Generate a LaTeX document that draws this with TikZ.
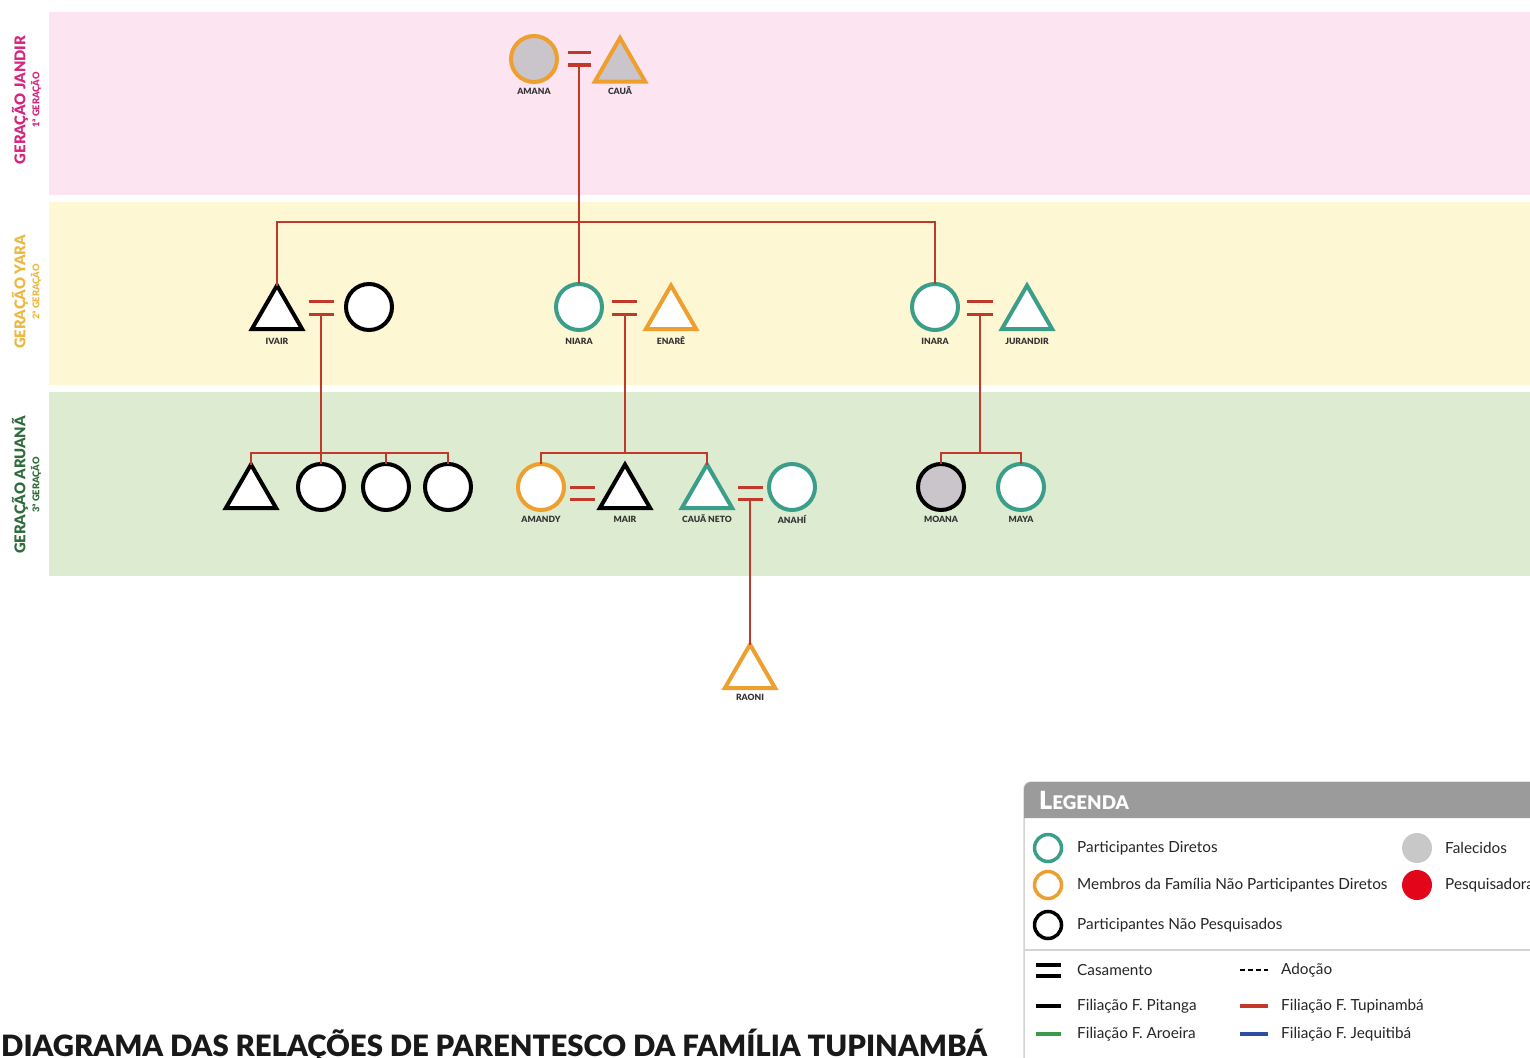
\documentclass[tikz,border=0pt]{standalone}
\usepackage{fontspec}
\setmainfont{Lato}
% heavy face for titles and name tags
\IfFontExistsTF{Lato Black}
  {\newfontfamily\heavyfont{Lato Black}}
  {\IfFontExistsTF{Lato Heavy}
    {\newfontfamily\heavyfont{Lato Heavy}}
    {\newfontfamily\heavyfont{Lato}[FakeBold=3]}}
\usetikzlibrary{shapes.geometric}

\definecolor{cPink}{HTML}{FCE4F1}
\definecolor{cYellow}{HTML}{FEF7D3}
\definecolor{cGreen}{HTML}{DDEBD0}
\definecolor{cMag}{HTML}{D8247D}
\definecolor{cGold}{HTML}{EDB740}
\definecolor{cDkGreen}{HTML}{2F6B3B}
\definecolor{cRed}{HTML}{C0392B}
\definecolor{cTeal}{HTML}{3A9E8A}
\definecolor{cOrange}{HTML}{EDA030}
\definecolor{cGrey}{HTML}{C9C5CA}
\definecolor{cText}{HTML}{333333}
\definecolor{cHead}{HTML}{9B9B9B}
\definecolor{cBorder}{HTML}{D4D4D4}
\definecolor{cDead}{HTML}{C8C8C8}
\definecolor{cResearch}{HTML}{E3061B}
\definecolor{cLgGreen}{HTML}{3A9A4A}
\definecolor{cLgBlue}{HTML}{2E4FA0}

\tikzset{
  fem/.style={circle, minimum size=46, inner sep=0, outer sep=0, line width=4, fill=white},
  mal/.style={regular polygon, regular polygon sides=3, minimum size=58, inner sep=0, outer sep=0, line width=4, fill=white, line join=miter},
  pdir/.style={draw=cTeal},
  memb/.style={draw=cOrange},
  npes/.style={draw=black},
  dead/.style={fill=cGrey},
  nm/.style={font=\heavyfont\fontsize{8.6}{10}\selectfont, text=cText, inner sep=0},
  kin/.style={draw=cRed, line width=2.5},
  bar/.style={draw=cRed, line width=3},
  gen/.style={rotate=90, font=\heavyfont\fontsize{14.8}{16}\selectfont, inner sep=0},
  gensub/.style={rotate=90, font=\heavyfont\fontsize{9.3}{10}\selectfont, inner sep=0},
  lg/.style={anchor=west, font=\fontsize{15.3}{18}\selectfont, text=black!85, inner sep=0},
  lgs/.style={anchor=west, font=\fontsize{15.3}{18}\selectfont, text=black!85, inner sep=0},
  lgring/.style={circle, minimum size=27, inner sep=0, line width=3.5},
  lgdot/.style={circle, minimum size=30, inner sep=0},
  lgline/.style={line width=3.5},
}

\begin{document}
\begin{tikzpicture}[x=1pt, y=-1pt]
\useasboundingbox (0,0) rectangle (1530,1057);
\begin{scope}
\clip (0,0) rectangle (1530,1057);
\fill[white] (0,0) rectangle (1530,1057);

% generation bands
\fill[cPink]   (49,12)  rectangle (1530,195);
\fill[cYellow] (49,202) rectangle (1530,385);
\fill[cGreen]  (49,392) rectangle (1530,576);

\node[gen, text=cMag]      (g1) at (20,100) {GERAÇÃO JANDIR};
\node[gensub, text=cMag]   (g1s) at (36,100) {1ª GERAÇÃO};
\node[gen, text=cGold]     (g2) at (20,292) {GERAÇÃO YARA};
\node[gensub, text=cGold]  (g2s) at (36,292) {2ª GERAÇÃO};
\node[gen, text=cDkGreen]  (g3) at (20,485) {GERAÇÃO ARUANÃ};
\node[gensub, text=cDkGreen] (g3s) at (36,485) {3ª GERAÇÃO};

% ---------- first generation
\node[fem, memb, dead] (amana) at (534,59) {};
\node[mal, memb, dead] (caua) at (620,67) {};
\node[nm] (lamana) at (534,91) {AMANA};
\node[nm] (lcaua) at (620,91) {CAUÃ};
\draw[bar] (568,53) -- (591,53);
\draw[bar] (568,65) -- (591,65);
\coordinate (m1) at (579,65);
\coordinate (g2bar) at (579,222);

% ---------- second generation
\node[mal, npes] (ivair) at (277,314.5) {};
\node[fem, npes] (ivairw) at (369,307) {};
\node[nm] (livair) at (277,341) {IVAIR};
\draw[bar] (309,301) -- (334,301);
\draw[bar] (309,314) -- (334,314);
\coordinate (m2) at (321,314);

\node[fem, pdir] (niara) at (579,307) {};
\node[mal, memb] (enare) at (671,314.5) {};
\node[nm] (lniara) at (579,341) {NIARA};
\node[nm] (lenare) at (671,341) {ENARÊ};
\draw[bar] (612,301) -- (637,301);
\draw[bar] (612,314) -- (637,314);
\coordinate (m3) at (625,314);

\node[fem, pdir] (inara) at (935,307) {};
\node[mal, pdir] (jurandir) at (1027,314.5) {};
\node[nm] (linara) at (935,341) {INARA};
\node[nm] (ljurandir) at (1027,341) {JURANDIR};
\draw[bar] (967,301) -- (993,301);
\draw[bar] (967,314) -- (993,314);
\coordinate (m4) at (980,314);

\draw[kin] (m1) -- (niara.north);
\draw[kin] (ivair.corner 1) |- (g2bar) -| (inara.north);

% ---------- third generation
\node[mal, npes] (c1) at (251,493.5) {};
\node[fem, npes] (c2) at (321,487) {};
\node[fem, npes] (c3) at (386,487) {};
\node[fem, npes] (c4) at (448,487) {};
\coordinate (s2) at (321,453);
\draw[kin] (m2) -- (s2);
\draw[kin] (c1.corner 1) |- (s2) -| (c4.north);
\draw[kin] (c2.north) -- (s2);
\draw[kin] (c3.north) -- (c3.north |- s2);

\node[fem, memb] (amandy) at (541,487) {};
\node[mal, npes] (mair) at (625,493.5) {};
\node[mal, pdir] (cauaneto) at (707,493.5) {};
\node[fem, pdir] (anahi) at (792,487) {};
\node[nm] (lamandy) at (541,519) {AMANDY};
\node[nm] (lmair) at (625,519) {MAIR};
\node[nm] (lcauaneto) at (707,519) {CAUÃ NETO};
\node[nm] (lanahi) at (792,519) {ANAHÍ};
\coordinate (s3) at (625,453);
\draw[kin] (m3) -- (s3);
\draw[kin] (amandy.north) |- (s3) -| (cauaneto.corner 1);
\draw[bar] (570,487) -- (595,487);
\draw[bar] (570,499) -- (595,499);
\draw[bar] (738,487) -- (763,487);
\draw[bar] (738,499) -- (763,499);
\coordinate (m5) at (750,499);

\node[fem, npes, dead] (moana) at (941,487) {};
\node[fem, pdir] (maya) at (1021,487) {};
\node[nm] (lmoana) at (941,519) {MOANA};
\node[nm] (lmaya) at (1021,519) {MAYA};
\coordinate (s4) at (980,453);
\draw[kin] (m4) -- (s4);
\draw[kin] (moana.north) |- (s4) -| (maya.north);

% ---------- fourth generation
\node[mal, memb] (raoni) at (750,673.5) {};
\node[nm] (lraoni) at (750,697) {RAONI};
\draw[kin] (m5) -- (raoni.corner 1);

% ---------- legend
\draw[cBorder, line width=1.5, fill=white, rounded corners=7] (1024,782) rectangle (1600,1100);
\fill[cHead] (1024,818) [rounded corners=7] -- (1024,782) -- (1600,782) [sharp corners] -- (1600,818) -- cycle;
\node[anchor=base west, text=white, inner sep=0] (lghead) at (1039,809)
  {\heavyfont\fontsize{25}{28}\selectfont L\fontsize{18.8}{21}\selectfont EGENDA};

\node[lgring, draw=cTeal]   (lk1) at (1048,848) {};
\node[lgring, draw=cOrange] (lk2) at (1048,885) {};
\node[lgring, draw=black]   (lk3) at (1048,925) {};
\node[lg] (lt1) at (1077,848) {Participantes Diretos};
\node[lg] (lt2) at (1077,885) {Membros da Família Não Participantes Diretos};
\node[lg] (lt3) at (1077,925) {Participantes Não Pesquisados};
\node[lgdot, fill=cDead]     (lk4) at (1417,848) {};
\node[lgdot, fill=cResearch] (lk5) at (1417,885) {};
\node[lg] (lt4) at (1445,848) {Falecidos};
\node[lg] (lt5) at (1445,885) {Pesquisadora};

\draw[cBorder, line width=1.5] (1024,950) -- (1600,950);

\draw[lgline, black] (1036,965) -- (1061,965);
\draw[lgline, black] (1036,976) -- (1061,976);
\node[lgs] (lt6) at (1077,970) {Casamento};
\draw[line width=2.5, black, dash pattern=on 5 off 3] (1240,970) -- (1268,970);
\node[lgs] (lt7) at (1281,970) {Adoção};
\draw[lgline, black] (1036,1006) -- (1061,1006);
\node[lgs] (lt8) at (1077,1006) {Filiação F. Pitanga};
\draw[lgline, cRed] (1240,1006) -- (1268,1006);
\node[lgs] (lt9) at (1281,1006) {Filiação F. Tupinambá};
\draw[lgline, cLgGreen] (1036,1034) -- (1061,1034);
\node[lgs] (lt10) at (1077,1034) {Filiação F. Aroeira};
\draw[lgline, cLgBlue] (1240,1034) -- (1268,1034);
\node[lgs] (lt11) at (1281,1034) {Filiação F. Jequitibá};

% ---------- title
\node[anchor=base west, inner sep=0, text=black!90] (title) at (1,1056)
  {\heavyfont\fontsize{29.35}{32}\selectfont DIAGRAMA DAS RELAÇÕES DE PARENTESCO DA FAMÍLIA TUPINAMBÁ};
\end{scope}
\end{tikzpicture}
\end{document}
